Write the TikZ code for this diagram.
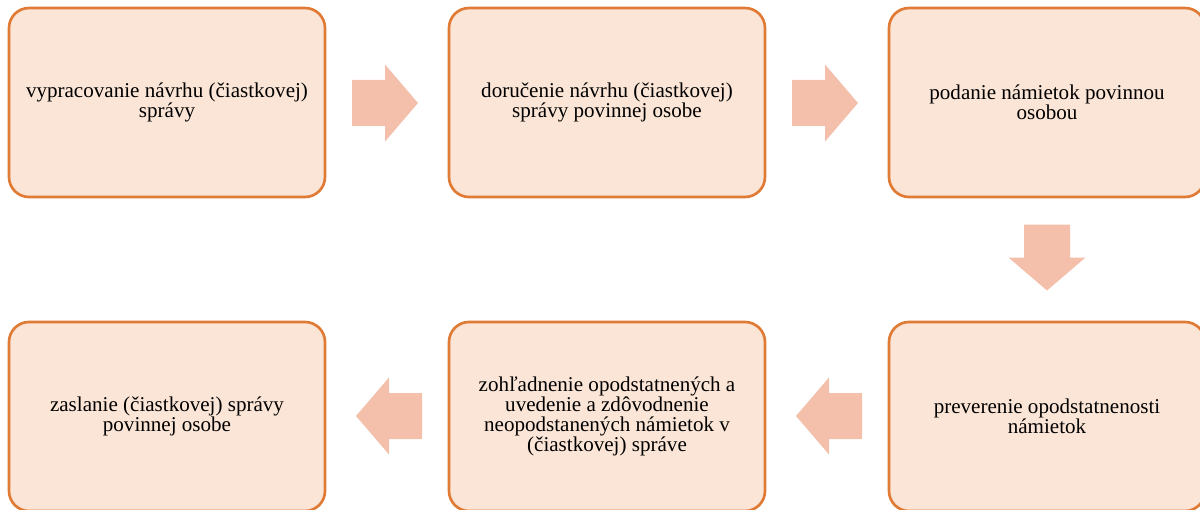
\documentclass[tikz,border=0pt]{standalone}
\usepackage{fontspec}
\setmainfont{Liberation Serif}
\definecolor{boxfill}{HTML}{FBE5D6}
\definecolor{boxline}{HTML}{E07B35}
\definecolor{arrfill}{HTML}{F4BFAB}
\tikzset{
  stepbox/.style={draw=boxline, line width=2pt, fill=boxfill, rounded corners=15pt,
    minimum width=237pt, minimum height=141.75pt, align=center, inner sep=0pt,
    font=\fontsize{15.8}{15}\selectfont, text=black},
  blockarr/.style={fill=arrfill, draw=none}
}
\newcommand{\blockarrow}[3]{%
  \fill[blockarr, shift={(#1,#2)}, rotate=#3]
    (-33,-23) -- (0,-23) -- (0,-38.5) -- (33,0) -- (0,38.5) -- (0,23) -- (-33,23) -- cycle;}
\begin{document}
\begin{tikzpicture}[x=0.75pt,y=-0.75pt]
\useasboundingbox (0,0) rectangle (1200,510);
\begin{scope}
\clip (0,0) rectangle (1200,510);
\node[stepbox] (b1) at (167,102.5) {vypracovanie návrhu (čiastkovej)\\správy};
\node[stepbox] (b2) at (607,102.5) {doručenie návrhu (čiastkovej)\\správy povinnej osobe};
\node[stepbox] (b3) at (1047,102.5) {podanie námietok povinnou\\osobou};
\node[stepbox] (b4) at (1047,416.5) {preverenie opodstatnenosti\\námietok};
\node[stepbox] (b5) at (607,416.5) {zohľadnenie opodstatnených a\\uvedenie a zdôvodnenie\\neopodstanených námietok v\\(čiastkovej) správe};
\node[stepbox] (b6) at (167,416.5) {zaslanie (čiastkovej) správy\\povinnej osobe};
\blockarrow{385}{103}{0}
\blockarrow{825}{103}{0}
\blockarrow{1047}{257.5}{-90}
\blockarrow{829}{416}{180}
\blockarrow{389}{416}{180}
\end{scope}
\end{tikzpicture}
\end{document}
